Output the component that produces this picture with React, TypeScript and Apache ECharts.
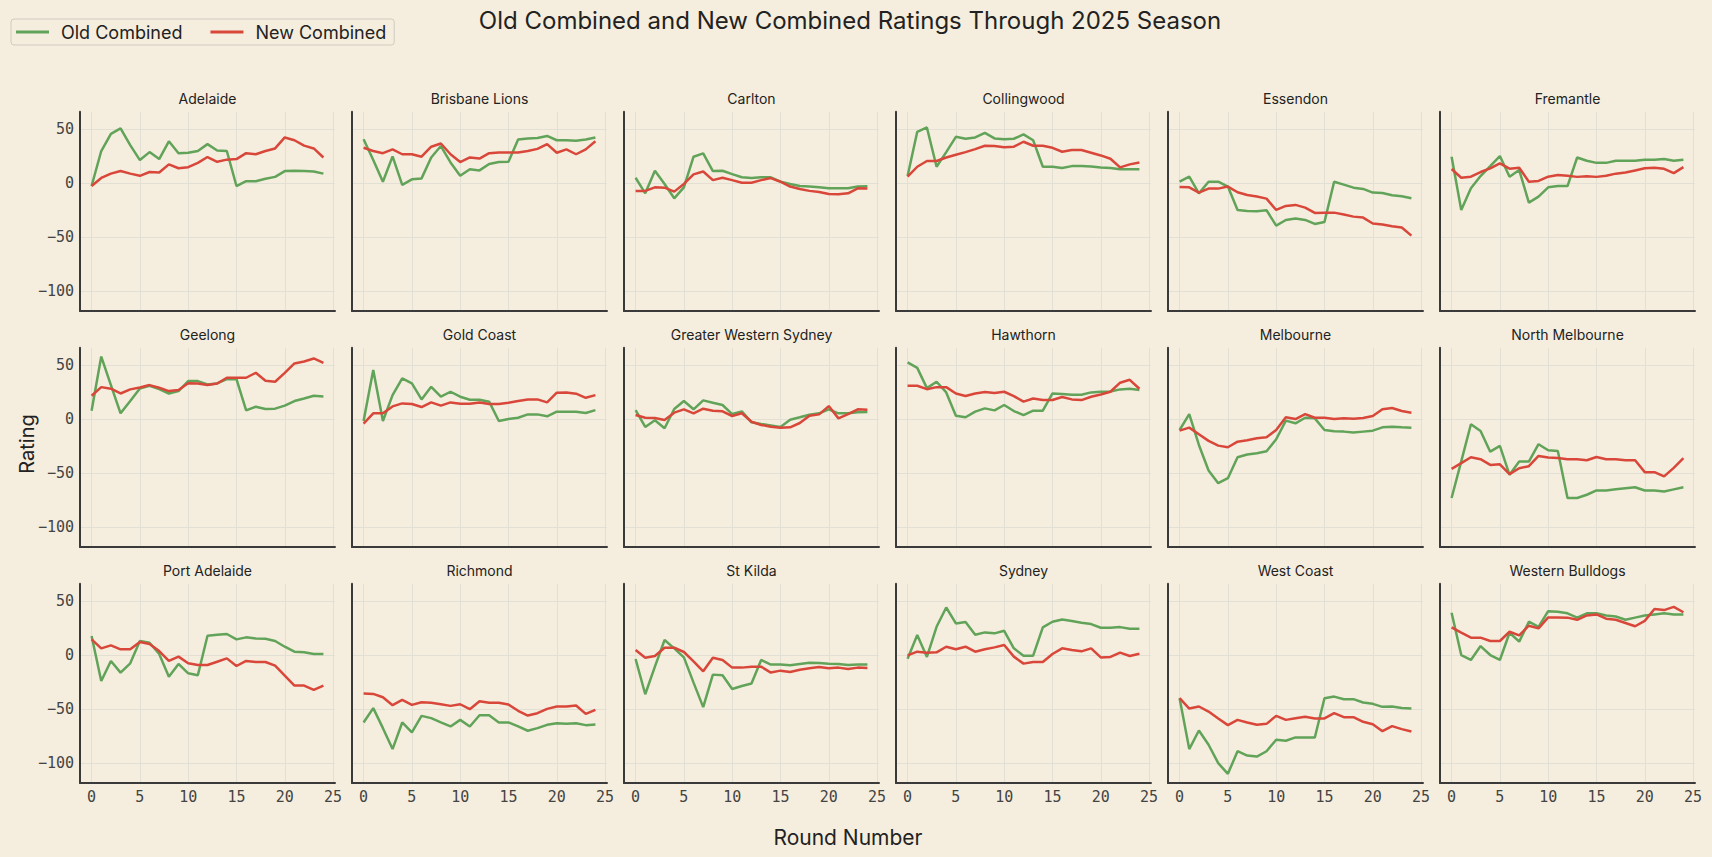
import React, { useEffect, useRef } from "react";
import * as echarts from "echarts";

const teams = [
  "Adelaide", "Brisbane Lions", "Carlton", "Collingwood", "Essendon", "Fremantle",
  "Geelong", "Gold Coast", "Greater Western Sydney", "Hawthorn", "Melbourne", "North Melbourne",
  "Port Adelaide", "Richmond", "St Kilda", "Sydney", "West Coast", "Western Bulldogs",
];

const rounds = [0, 1, 2, 3, 4, 5, 6, 7, 8, 9, 10, 11, 12, 13, 14, 15, 16, 17, 18, 19, 20, 21, 22, 23, 24];
const xTicks = [0, 5, 10, 15, 20, 25];
const yTicks = [-100, -50, 0, 50];

const oldCombined = [
  [-2.5, 30, 46, 51, 35.5, 21.6, 29, 22.5, 39, 28, 28.4, 30, 36.4, 30.5, 30, -2.5, 2, 2, 4.3, 6, 11.4, 11.7, 11.4, 11, 9],
  [41, 21.6, 1.5, 25, -1.5, 3.7, 4.6, 24, 34.6, 19.4, 7, 13, 12, 18, 19.8, 20, 40.7, 41.7, 42, 44, 40, 40, 39.5, 40.7, 42.6],
  [5.2, -9.3, 11.7, -0.6, -13.9, -3.7, 24.7, 27.8, 11.4, 11.7, 8.6, 5.6, 4.9, 5.6, 5.6, 1.5, -0.6, -2.5, -3, -3.7, -4.6, -4.6, -4.6, -3, -2.8],
  [6.8, 47.8, 51.9, 15.4, 29, 43.2, 41.4, 42.6, 46.9, 41.7, 41, 41.4, 45.4, 40, 15.4, 15.4, 14.2, 16, 16, 15.7, 14.8, 14.2, 13, 13, 13],
  [1.5, 6.2, -9.3, 1.5, 1.5, -3, -24.7, -25.6, -26, -25, -39.2, -34, -32.7, -34, -37.7, -35.8, 1.5, -1.2, -4, -5.2, -8.6, -9, -11, -12, -13.9],
  [24.7, -24.7, -4.6, 6.8, 16, 25.3, 6.2, 12.3, -17.9, -12.3, -3.7, -2.5, -2.5, 24, 21, 19, 19, 21, 21, 21, 22, 22, 22.5, 21, 22],
  [8, 58.3, 31.8, 5.6, 17, 28.7, 31.2, 28, 24, 26.2, 35.5, 35.5, 32.4, 33.3, 37.3, 37.3, 8.3, 11.7, 9.6, 9.9, 12.7, 17, 19.4, 21.9, 21.3],
  [-1.5, 45.7, -1.5, 22.5, 38, 33.3, 18.5, 30.2, 21, 25.6, 21, 18.2, 18.2, 16.4, -1.5, 0.3, 1.5, 4.6, 4.6, 2.8, 7.1, 7.1, 7.1, 5.9, 8.6],
  [8.6, -7.1, -0.9, -8.3, 9.6, 17, 9.3, 17.6, 15.4, 13.3, 4.9, 7.4, -2.8, -4.3, -5.6, -7.1, -0.3, 1.9, 4.3, 5.6, 9.3, 5.6, 5.6, 6.5, 6.8],
  [52.8, 47.8, 29, 34.9, 25, 3.4, 1.9, 7.1, 10.2, 8.3, 13.3, 7.7, 4, 8, 8, 24, 23.5, 22.8, 22.8, 25, 25.6, 25.9, 27.8, 28.4, 27.2],
  [-9.9, 4.9, -23.8, -47.5, -59.3, -54.6, -35.2, -32.7, -31.5, -29.6, -18.5, -1.2, -3.7, 1.5, 0.9, -9.9, -11.1, -11.4, -12.3, -11.4, -10.5, -7.4, -6.8, -7.4, -7.7],
  [-73, -39, -4.6, -10.8, -30, -24.7, -51.5, -39.2, -39.2, -23.1, -28.7, -29.3, -73, -73, -70, -66, -66, -65, -64, -63, -66, -66, -67, -65, -63],
  [17.9, -23.8, -5.2, -16, -7.4, 13.3, 11.7, 1.2, -19.8, -8, -16.7, -18.5, 18.2, 19.1, 19.8, 14.8, 16.7, 15.7, 15.4, 13.3, 8, 3.4, 2.8, 1.2, 1.2],
  [-62.3, -49, -67.6, -87, -62.3, -71.6, -56.2, -58.3, -62.3, -66, -59.9, -66, -55.6, -55.6, -62.3, -62.3, -66, -70, -67.6, -64.5, -63, -63.6, -63, -64.8, -64.2],
  [-3.4, -36.1, -10.5, 14.2, 6.5, -1.9, -25.3, -48.1, -17.9, -18.5, -31.2, -28.4, -26.2, -4.3, -8.6, -8.6, -9.3, -8, -6.8, -7.1, -7.7, -8, -9, -8.6, -8.6],
  [-3.1, 18.8, -1.5, 26.5, 44.4, 29.6, 30.9, 19.1, 21.3, 20.4, 22.8, 6.5, -0.3, -0.3, 25.9, 31.2, 33.3, 31.8, 30.2, 29, 25.6, 25.6, 26.2, 24.7, 24.7],
  [-39.8, -87, -69.8, -83, -100, -110, -89, -93, -94, -89, -78.4, -79.3, -76.2, -76.2, -76.2, -39.8, -38.3, -40.7, -40.7, -43.8, -45, -47.8, -47.5, -48.8, -49.4],
  [39.5, 0.3, -4.3, 8.6, 0.3, -4.3, 21, 12.7, 31.2, 26.5, 41, 40.4, 39, 35, 39, 39, 37, 36, 33, 35, 37, 38, 39, 38, 38],
];

const newCombined = [
  [-2.5, 5, 9, 11.4, 9, 7, 10.5, 10, 17.6, 14, 15, 19, 24.4, 20, 22, 22.5, 28, 27, 30, 32.4, 42.6, 40, 35, 32.4, 24],
  [33, 30, 28, 31.5, 27, 27, 24.7, 34, 37, 27, 19.8, 24, 23, 28, 28.7, 28.7, 28.7, 30, 32, 36.4, 28.4, 31.5, 27, 31.5, 39],
  [-7, -7, -3.7, -4, -7.7, -0.6, 8.3, 11, 3, 5.2, 3, 0.6, 0.6, 3, 4.9, 1.5, -3, -5.2, -7, -8, -9.9, -10.2, -9.3, -4.6, -4.9],
  [6.2, 15.4, 20.7, 20.7, 24, 26.5, 29, 31.8, 34.9, 34.6, 33.6, 34, 38.6, 34.9, 34.9, 33, 29.3, 30.9, 30.9, 28.4, 25.9, 22.8, 14.8, 17.6, 19.4],
  [-3.4, -3.7, -8.6, -4.9, -4.9, -3, -8.3, -10.8, -12.3, -14.2, -24.7, -21, -20, -22.5, -27.5, -27.2, -27.2, -29, -30.9, -31.8, -37.3, -38.3, -39.8, -41, -48.5],
  [13.3, 5.2, 6.2, 10.5, 13.9, 18.5, 13.6, 14.5, 1.5, 2.2, 6.2, 7.7, 7, 6, 6.5, 6, 7, 9, 10, 12, 14, 14.5, 13.5, 9.5, 15],
  [21.9, 29.9, 28.4, 24, 27.8, 29.6, 31.8, 29.3, 26.2, 27.2, 33.6, 33.3, 31.8, 33.3, 38.6, 38.6, 38.6, 43.2, 35.8, 34.9, 43.2, 51.9, 53.7, 56.5, 52.5],
  [-4, 5.6, 5.6, 12, 14.8, 14.2, 11.4, 15.7, 12.7, 15.7, 14.5, 14.5, 15.7, 14.2, 14.2, 15.4, 17, 18.5, 18.5, 15.7, 24.7, 25, 23.8, 20, 22.5],
  [4, 1.5, 1.2, -0.6, 6.2, 9.3, 5.6, 9.9, 8, 7.4, 3.1, 5.6, -2.2, -5.2, -6.8, -7.7, -7.4, -3.4, 3.4, 4.6, 12.3, 0.9, 4.9, 9.3, 9],
  [31.2, 31.2, 28, 29.9, 29.9, 24, 21.6, 24, 25.3, 24.4, 25.6, 21.6, 16.4, 19.4, 17.9, 17.9, 20.7, 18.5, 17.9, 21, 23.1, 25.6, 34, 36.7, 28.4],
  [-10.5, -7.7, -13.9, -20, -24.4, -25.9, -20.7, -19.4, -17.6, -16.7, -9.9, 1.9, 0.3, 4.9, 1.5, 1.5, 0.3, 0.9, 0.6, 1.2, 3.1, 9.3, 10.5, 7.7, 6.2],
  [-46, -40.7, -35.2, -37, -42.3, -41.7, -50.9, -45.4, -43.5, -34, -35.5, -35.8, -37, -37, -38, -35, -37, -37, -38, -38, -49, -49, -53, -45, -36],
  [14.8, 6.5, 9.3, 5.6, 5.6, 12.3, 10.5, 4, -5.2, -1.2, -7.4, -9, -9, -5.9, -2.8, -9.9, -5.2, -6.2, -6.2, -9.6, -18.8, -28.1, -28.1, -32.1, -28.1],
  [-35.5, -35.8, -38.9, -46.3, -41.4, -46, -43.5, -44.1, -45.4, -46.9, -45.4, -50, -42.6, -44.1, -44.1, -45.7, -51.5, -55.9, -53.7, -49.7, -47.5, -47.5, -46.6, -54.3, -50.6],
  [4.9, -2.2, -0.6, 7.1, 7.1, 3.1, -5.6, -14.8, -2.2, -4.3, -11.4, -11.4, -10.5, -10.5, -16, -14.2, -15.4, -13.3, -12, -10.8, -12, -11.4, -12.7, -11.4, -11.7],
  [0, 3.4, 2.5, 2.8, 8, 5.6, 8, 3.4, 5.6, 7.4, 9.6, -1.2, -7.7, -6.2, -6.2, 1.2, 6.5, 4.9, 3.7, 6.5, -1.9, -1.5, 2.5, -0.6, 1.5],
  [-39.8, -49.4, -47.5, -52.2, -58.6, -64.8, -59.9, -62.3, -64.5, -63.6, -56.2, -59.9, -58.3, -57.1, -58.6, -58.6, -53.7, -57.4, -57.4, -61.7, -63.9, -70.4, -65.7, -68.5, -70.7],
  [25.9, 21, 16.4, 16.4, 13.3, 13.3, 21.9, 18.5, 27.5, 25, 35.2, 35.2, 35, 33, 37, 38, 34, 33, 30, 27, 32, 43, 42, 45, 40],
];

const BG = "#f5eede";
const GREEN = "#62a35a";
const RED = "#d8473a";
const AXIS = "#3a3a3a";
const GRID = "#e2dfd5";
const SANS = "Inter, 'Noto Sans', sans-serif";
const MONO = "'DejaVu Sans Mono', monospace";

const fmt = (v: number) => (v < 0 ? "\u2212" + Math.abs(v) : String(v));

export default function App() {
  const ref = useRef<HTMLDivElement>(null);

  useEffect(() => {
    document.body.style.margin = "0";
    document.body.style.background = BG;
    const chart = echarts.init(ref.current as HTMLDivElement, null, { renderer: "svg" });

    const grids: any[] = [];
    const xAxes: any[] = [];
    const yAxes: any[] = [];
    const series: any[] = [];
    const graphics: any[] = [];

    const W = 255;
    const H = 199.3;

    teams.forEach((team, k) => {
      const row = Math.floor(k / 6);
      const col = k % 6;
      const left = 80 + col * 272;
      const top = 111.7 + row * 236;
      grids.push({ left, top, width: W, height: H });
      xAxes.push({
        type: "value",
        gridIndex: k,
        min: -1.2,
        max: 25.2,
        axisLine: { show: true, onZero: false, lineStyle: { color: AXIS, width: 2 } },
        axisTick: { show: false, customValues: xTicks },
        axisLabel: {
          show: row === 2,
          customValues: xTicks,
          margin: 6,
          fontFamily: MONO,
          fontSize: 15,
          color: "#444",
          formatter: (v: number) => fmt(v),
        },
        splitLine: { show: true, lineStyle: { color: GRID, width: 1 } },
      });
      yAxes.push({
        type: "value",
        gridIndex: k,
        min: -118.5,
        max: 66.5,
        axisLine: { show: true, onZero: false, lineStyle: { color: AXIS, width: 2 } },
        axisTick: { show: false, customValues: yTicks },
        axisLabel: {
          show: col === 0,
          customValues: yTicks,
          margin: 6,
          fontFamily: MONO,
          fontSize: 15,
          color: "#444",
          formatter: (v: number) => fmt(v),
        },
        splitLine: { show: true, lineStyle: { color: GRID, width: 1 } },
      });
      series.push({
        name: "Old Combined",
        type: "line",
        xAxisIndex: k,
        yAxisIndex: k,
        data: rounds.map((r, i) => [r, oldCombined[k][i]]),
        symbol: "none",
        showSymbol: false,
        lineStyle: { color: GREEN, width: 2.5 },
        itemStyle: { color: GREEN },
      });
      series.push({
        name: "New Combined",
        type: "line",
        xAxisIndex: k,
        yAxisIndex: k,
        data: rounds.map((r, i) => [r, newCombined[k][i]]),
        symbol: "none",
        showSymbol: false,
        lineStyle: { color: RED, width: 2.5 },
        itemStyle: { color: RED },
      });
      graphics.push({
        type: "text",
        x: left + W / 2,
        y: top - 13.5,
        style: {
          text: team,
          align: "center",
          verticalAlign: "middle",
          fontFamily: SANS,
          fontSize: 14,
          fill: "#222",
        },
      });
    });

    graphics.push({
      type: "text",
      x: 850,
      y: 20,
      style: {
        text: "Old Combined and New Combined Ratings Through 2025 Season",
        align: "center",
        verticalAlign: "middle",
        fontFamily: SANS,
        fontSize: 24,
        fill: "#222",
      },
    });
    graphics.push({
      type: "text",
      x: 848,
      y: 837,
      style: {
        text: "Round Number",
        align: "center",
        verticalAlign: "middle",
        fontFamily: SANS,
        fontSize: 21,
        fill: "#222",
      },
    });
    graphics.push({
      type: "text",
      x: 27,
      y: 444,
      rotation: Math.PI / 2,
      style: {
        text: "Rating",
        align: "center",
        verticalAlign: "middle",
        fontFamily: SANS,
        fontSize: 20,
        fill: "#222",
      },
    });

    chart.setOption({
      animation: false,
      backgroundColor: BG,
      legend: {
        data: ["Old Combined", "New Combined"],
        left: 11,
        top: 19,
        icon: "rect",
        itemWidth: 33,
        itemHeight: 3,
        itemGap: 28,
        padding: [4, 8, 4, 5],
        borderColor: "#cfcbc2",
        borderWidth: 1,
        borderRadius: 3,
        textStyle: { fontFamily: SANS, fontSize: 18, color: "#222", padding: [0, 0, 0, 7] },
      },
      grid: grids,
      xAxis: xAxes,
      yAxis: yAxes,
      series,
      graphic: graphics,
    });

    return () => chart.dispose();
  }, []);

  return (
    <div
      ref={ref}
      style={{ position: "absolute", left: 0, top: 0, width: 1712, height: 857, background: BG }}
    />
  );
}
